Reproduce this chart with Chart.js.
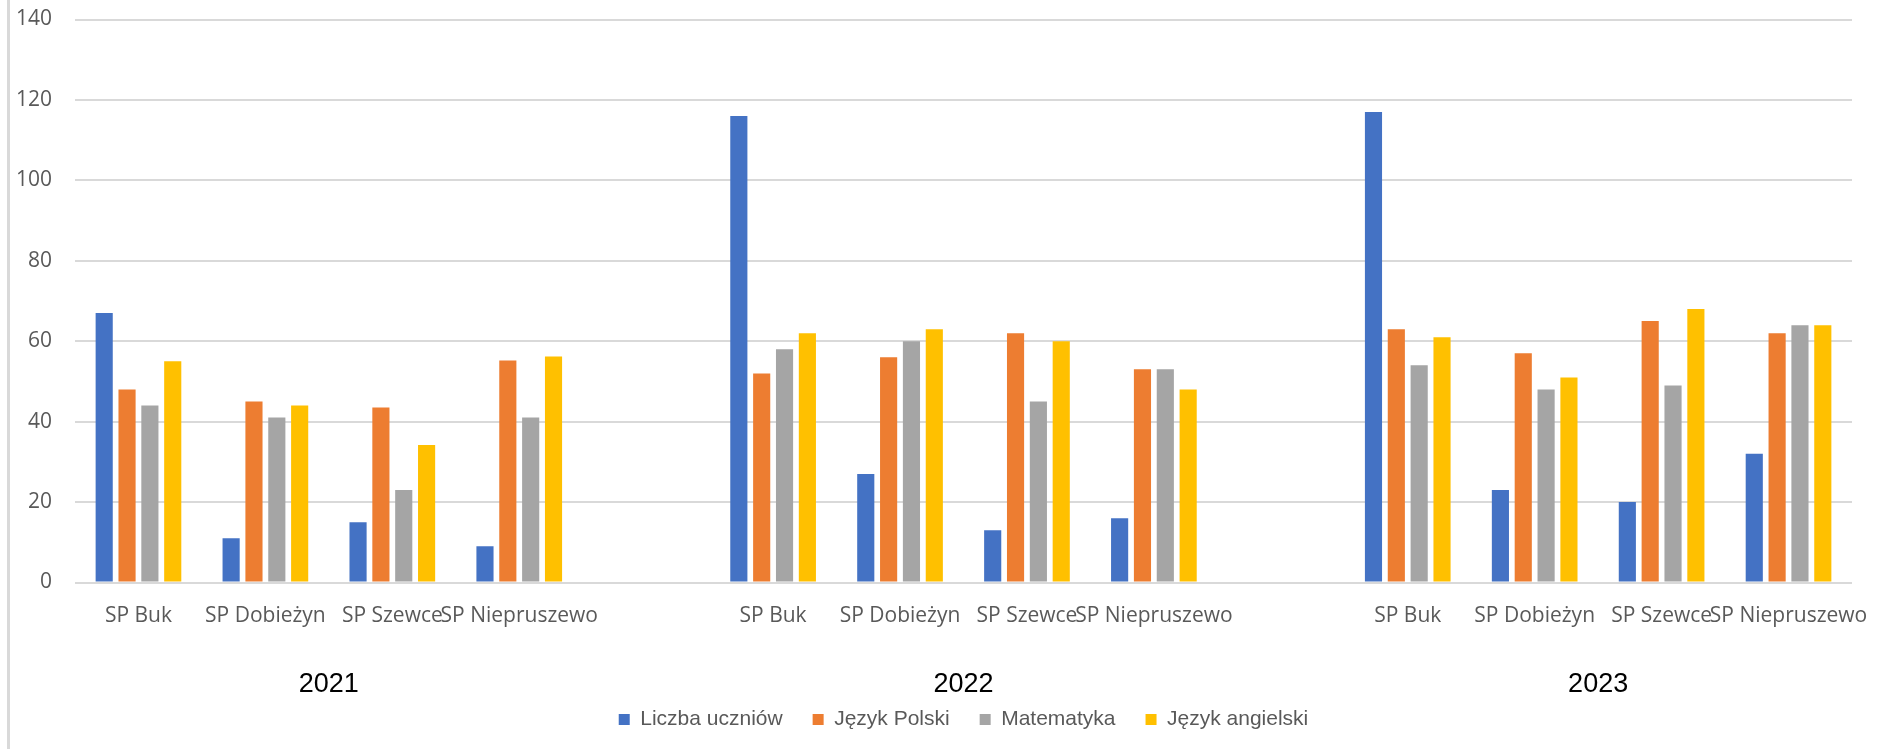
<!DOCTYPE html>
<html>
<head>
<meta charset="utf-8">
<script src="https://cdn.jsdelivr.net/npm/chart.js@4.4.0/dist/chart.umd.min.js"></script>
<style>
  body { margin: 0; background: #fff; }
  #wrap { position: relative; width: 1892px; height: 749px; }
  #edge { position: absolute; left: 7px; top: 0; width: 3px; height: 749px; background: #d9d9d9; }
</style>
</head>
<body>
<div id="wrap">
  <canvas id="myChart" width="1892" height="749"></canvas>
  <div id="edge"></div>
</div>
<script>
// dane z wykresu
var years = ['2021', '2022', '2023'];
var schools = ['SP Buk', 'SP Dobieżyn', 'SP Szewce', 'SP Niepruszewo'];
var seriesNames = ['Liczba uczniów', 'Język Polski', 'Matematyka', 'Język angielski'];
var seriesColors = ['#4472C4', '#ED7D31', '#A5A5A5', '#FFC000'];

// kolejno: 2021 (4 szkoly), 2022, 2023
var liczbaUczniow  = [67, 11, 15, 9,   116, 27, 13, 16,  117, 23, 20, 32];
var jezykPolski    = [48, 45, 43.5, 55.2,  52, 56, 62, 53,  63, 57, 65, 62];
var matematyka     = [44, 41, 23, 41,  58, 60, 45, 53,  54, 48, 49, 64];
var jezykAngielski = [55, 44, 34.2, 56.2,  62, 63, 60, 48,  61, 51, 68, 64];

var yTicksMax = 140;
var yTicksStep = 20;

// etykiety osi X: szkoly w kazdym roku + pusta kategoria miedzy latami
var labels = [];
var yearStart = [];
for (var y = 0; y < years.length; y++) {
  yearStart.push(labels.length);
  for (var s = 0; s < schools.length; s++) {
    labels.push(schools[s]);
  }
  if (y < years.length - 1) labels.push('');
}

function pad(values) {
  var out = [];
  var k = 0;
  for (var i = 0; i < labels.length; i++) {
    if (labels[i] === '') {
      out.push(null);
    } else {
      out.push(values[k]);
      k++;
    }
  }
  return out;
}

var allSeries = [liczbaUczniow, jezykPolski, matematyka, jezykAngielski];
var datasets = [];
for (var i = 0; i < allSeries.length; i++) {
  datasets.push({
    label: seriesNames[i],
    data: pad(allSeries[i]),
    backgroundColor: seriesColors[i],
    borderWidth: 0,
    categoryPercentage: 0.72,
    barPercentage: 0.75
  });
}

// podpisy lat pod grupami szkol + przesuniecie legendy do srodka obszaru wykresu
var yearLabels = {
  id: 'yearLabels',
  afterLayout: function(chart) {
    var shift = chart.chartArea.left / 2;
    chart.legend.left += shift;
    chart.legend.right += shift;
  },
  afterDraw: function(chart) {
    var xs = chart.scales.x;
    var ctx = chart.ctx;
    ctx.save();
    ctx.font = '27px "Liberation Sans", Arial, sans-serif';
    ctx.fillStyle = '#000000';
    ctx.textAlign = 'center';
    ctx.textBaseline = 'middle';
    for (var i = 0; i < years.length; i++) {
      var a = xs.getPixelForValue(yearStart[i]);
      var b = xs.getPixelForValue(yearStart[i] + schools.length - 1);
      ctx.fillText(years[i], (a + b) / 2, chart.chartArea.bottom + 102);
    }
    ctx.restore();
  }
};

var ctx = document.getElementById('myChart').getContext('2d');
var myChart = new Chart(ctx, {
  type: 'bar',
  data: {
    labels: labels,
    datasets: datasets
  },
  options: {
    responsive: false,
    animation: false,
    devicePixelRatio: 1,
    layout: {
      padding: { left: 0, right: 40, top: 19.5, bottom: 9 }
    },
    scales: {
      x: {
        grid: { display: false, drawTicks: false },
        border: { display: false },
        ticks: {
          autoSkip: false,
          maxRotation: 0,
          minRotation: 0,
          padding: 21,
          color: '#595959',
          font: { family: '"Open Sans", sans-serif', size: 21 }
        },
        afterFit: function(scale) { scale.height = 96.5; }
      },
      y: {
        min: 0,
        max: yTicksMax,
        grid: { color: '#d9d9d9', lineWidth: 2, drawTicks: true, tickLength: 23, tickColor: 'rgba(0,0,0,0)' },
        border: { display: false },
        ticks: {
          stepSize: yTicksStep,
          padding: 0,
          color: '#595959',
          font: { family: '"Open Sans", sans-serif', size: 21 }
        },
        afterFit: function(scale) { scale.width = 75; }
      }
    },
    plugins: {
      legend: {
        position: 'bottom',
        labels: {
          boxWidth: 11,
          boxHeight: 11,
          padding: 30,
          color: '#595959',
          font: { family: '"Liberation Sans", Arial, sans-serif', size: 21 }
        }
      },
      tooltip: { enabled: false }
    }
  },
  plugins: [yearLabels]
});
</script>
</body>
</html>
